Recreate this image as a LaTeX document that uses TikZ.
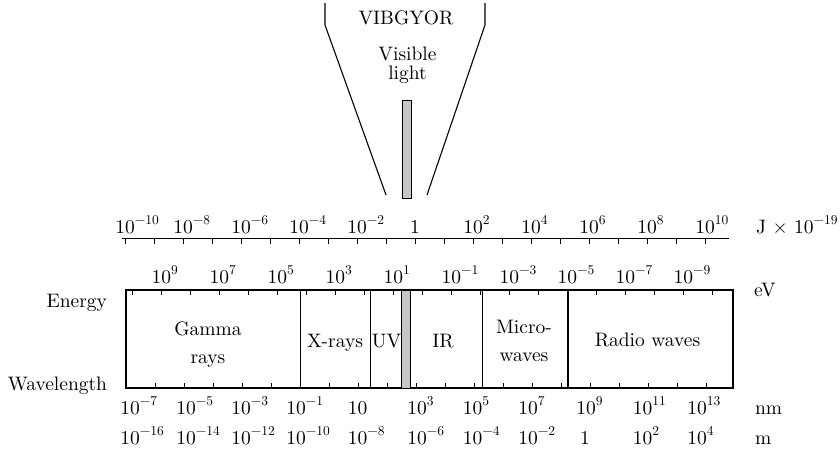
\documentclass[tikz,border=0pt]{standalone}
\usepackage{fontspec}
\setmainfont{lmroman10-regular.otf}
\newcommand\pw[1]{10\raisebox{0.42em}{\fontsize{13.5}{13.5}\selectfont #1}}
\begin{document}
\begin{tikzpicture}[x=1pt,y=-1pt,
  font=\fontsize{19.5}{23}\selectfont,
  ln/.style={line width=1.1pt, line cap=rect},
  tk/.style={line width=1pt},
  lb/.style={anchor=base, inner sep=0pt, outer sep=0pt},
  lw/.style={anchor=base west, inner sep=0pt, outer sep=0pt},
  le/.style={anchor=base east, inner sep=0pt, outer sep=0pt},
  barfill/.style={draw, line width=1pt, fill=gray!45}]
\useasboundingbox (0,0) rectangle (840,451);

% funnel
\coordinate (fl1) at (325,3);
\coordinate (fl2) at (325,25);
\coordinate (fl3) at (386,195);
\coordinate (fr1) at (485,3);
\coordinate (fr2) at (485,25);
\coordinate (fr3) at (427,195);
\draw[line width=1.1pt] (fl1) -- (fl2) -- (fl3);
\draw[line width=1.1pt] (fr1) -- (fr2) -- (fr3);
\node[lb] (vib) at (406,24) {VIBGYOR};
\node[lb] (vis) at (407.5,60) {Visible};
\node[lb] (lig) at (407.5,79) {light};
\draw[barfill] (402,100) rectangle (411,198);

% top axis (J x 10^-19)
\coordinate (ta0) at (122,238.5);
\coordinate (ta1) at (729,238.5);
\draw[line width=1.2pt] (ta0) -- (ta1);
\foreach \k in {0,...,20} \draw[tk] (125+29*\k,238.5) -- ++(0,5);
\foreach \x/\e [count=\i] in {125/−10,183/−8,241/−6,299/−4,357/−2,473/2,531/4,589/6,647/8,705/10}
  \node[lw] (tl\i) at (\x-9.75,233) {\pw{\e}};
\node[lb] (tl0) at (415,233) {1};
\node[lw] (junit) at (756,233) {J × \pw{−19}};

% spectrum box
\draw[ln] (126,290) rectangle (733,388);
\foreach \k in {0,...,20} \draw[tk] (132.3+29*\k,290) -- ++(0,5);
\foreach \k in {1,...,20} \draw[tk] (126+29*\k,388) -- ++(0,-5);
\foreach \x in {300.5,370.7,482.5,568} \draw[ln] (\x,290) -- (\x,388);
\draw[barfill] (401.7,290) rectangle (410.5,388);

% eV labels
\foreach \x/\e [count=\i] in {161.3/9,219.3/7,277.3/5,335.3/3,393.3/1,451.3/−1,509.3/−3,567.3/−5,625.3/−7,683.3/−9}
  \node[lw] (ev\i) at (\x-9.75,283) {\pw{\e}};
\node[lw] (evunit) at (754,296) {eV};

\node[le] (energy) at (107,307) {Energy};
\node[le] (wave) at (107,390) {Wavelength};

% region labels
\node[lb] (gam1) at (208,335) {Gamma};
\node[lb] (gam2) at (208,363) {rays};
\node[lb] (xr) at (335,347) {X-rays};
\node[lb] (uv) at (386.5,347) {UV};
\node[lb] (ir) at (443,347) {IR};
\node[lb] (mw1) at (524,333) {Micro-};
\node[lb] (mw2) at (524,361) {waves};
\node[lb] (rw) at (647.5,346) {Radio waves};

% nm labels
\foreach \x/\e [count=\i] in {130/−7,186/−5,241/−3,296/−1,417/3,472.5/5,528/7,586/9,642.5/11,697/13}
  \node[lw] (nm\i) at (\x-9.75,414) {\pw{\e}};
\node[lb] (nm0) at (357.5,414) {10};
\node[lw] (nmunit) at (755,414) {nm};

% m labels
\foreach \x/\e [count=\i] in {130/−16,186/−14,241/−12,296/−10,357.5/−8,417/−6,472.5/−4,528/−2,642.5/2,697/4}
  \node[lw] (m\i) at (\x-9.75,444) {\pw{\e}};
\node[lb] (m0) at (585,444) {1};
\node[lw] (munit) at (755,444) {m};
\end{tikzpicture}
\end{document}
